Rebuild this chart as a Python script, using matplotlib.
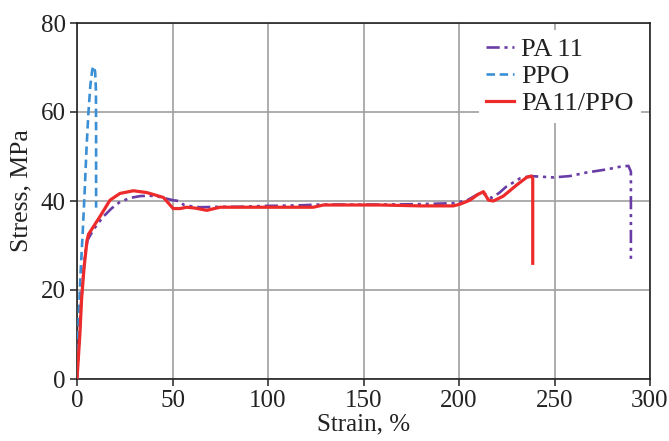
import matplotlib
matplotlib.use("Agg")
import matplotlib.pyplot as plt

# ---- data ----
pa11_strain = [0, 1, 2, 3, 4.2, 5.5, 8.5, 13.6, 18, 22.5, 28, 33, 38, 43.5, 50, 53.4, 56, 60, 64.4, 75, 85, 99, 115, 127,
               159, 180, 197, 204, 211, 214, 217, 221, 224.7, 232, 237.5, 249.4, 258, 266.8, 277.3, 284.3, 288.7,
               290, 290]
pa11_stress = [0, 8, 16, 22, 28, 31.2, 33.5, 36.4, 38.3, 39.8, 40.7, 41.1, 41.2, 40.9, 40.2, 40.0, 39.1, 38.8, 38.6,
               38.7, 38.7, 38.9, 39.0, 39.2, 39.2, 39.3, 39.5, 40.1, 41.8, 41.5, 40.7, 41.8, 43.2, 45.1, 45.6, 45.3,
               45.6, 46.4, 47.1, 47.7, 47.9, 46.6, 27.0]

ppo_strain = [0, 0.5, 1, 2, 3, 4, 5, 6, 7, 8, 8.8, 9.5, 9.9, 10, 10]
ppo_stress = [0, 8, 15, 25, 33, 42, 52, 60, 66, 69.5, 70.3, 69, 65, 55, 38.5]

blend_strain = [0, 1.5, 2.4, 3.7, 5.2, 6, 12, 17.3, 22.5, 29.5, 36.5, 45.2, 50.4, 54, 57.4, 62, 67.9, 74.9, 80, 87,
                123.7, 129, 159, 180, 197, 200.6, 205.8, 210, 212.8, 215.4, 218, 223.2, 230.2, 235.4, 238, 238.6, 238.6]
blend_stress = [0, 10, 18, 25, 31, 32.5, 36.5, 40.2, 41.7, 42.3, 41.9, 40.8, 38.3, 38.3, 38.6, 38.4, 37.9, 38.6, 38.6,
                38.6, 38.6, 39.1, 39.1, 38.9, 38.9, 39.3, 40.2, 41.5, 42.1, 40.2, 40.0, 41.1, 43.6, 45.3, 45.6, 45.0, 26.0]

series_labels = ["PA 11", "PPO", "PA11/PPO"]
x_ticks = [0, 50, 100, 150, 200, 250, 300]
y_ticks = [0, 20, 40, 60, 80]

plt.rcParams['font.family'] = ['Liberation Serif', 'DejaVu Serif']
plt.rcParams['font.size'] = 18

fig = plt.figure(figsize=(6.69, 4.41), dpi=100)
ax = fig.add_axes([77/669, 1-379/441, (650-77)/669, (379-23)/441])

purple = "#6A3DA6"
blue = "#3B8FD4"
red = "#EE2B2B"

ax.plot(pa11_strain, pa11_stress, color=purple, lw=1.9, label=series_labels[0],
        dashes=(5, 1.8, 1.2, 1.8, 1.2, 1.8), zorder=3)
ax.plot(ppo_strain, ppo_stress, color=blue, lw=1.9, label=series_labels[1],
        dashes=(3.2, 1.8), zorder=3)
ax.plot(blend_strain, blend_stress, color=red, lw=2.3, label=series_labels[2], zorder=4)

ax.set_xlim(0, 300)
ax.set_ylim(0, 80)
ax.set_xticks(x_ticks)
ax.set_yticks(y_ticks)
ax.grid(True, color="#A0A0A0", lw=1.2, zorder=0)
ax.set_axisbelow(True)
for s in ax.spines.values():
    s.set_color("#222222")
    s.set_linewidth(1.2)
ax.tick_params(axis='both', direction='out', length=5, width=1.1, color="#222222", pad=3, labelcolor="#222222")
ax.set_xlabel("Strain, %", color="#222222", labelpad=1)
ax.set_ylabel("Stress, MPa", color="#222222", fontsize=18.5)
ax.yaxis.set_label_coords(-0.077, 0.528)

leg = ax.legend(loc="upper left", bbox_to_anchor=((478.5-77)/573, (379-30)/356), borderaxespad=0,
                frameon=True, fancybox=False, framealpha=1, edgecolor="none", facecolor="white",
                handlelength=1.05, handletextpad=0.25, labelspacing=0.13, borderpad=0.3,
                prop={'size': 19})
for t in leg.get_texts():
    t.set_color("#222222")

fig.savefig("out.png", dpi=100)
